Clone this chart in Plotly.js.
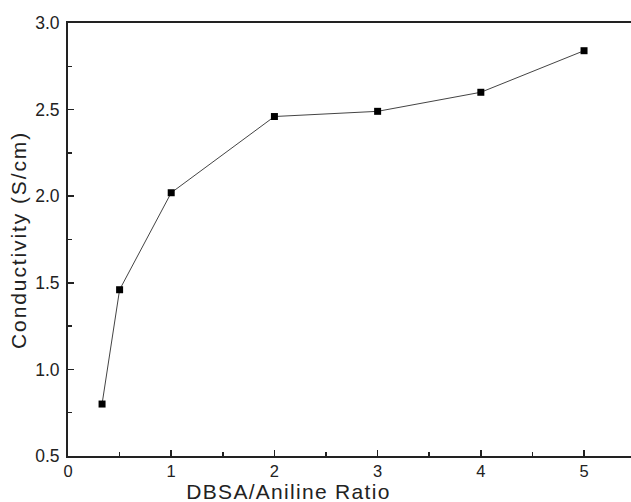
<!DOCTYPE html>
<html>
<head>
<meta charset="utf-8">
<script src="https://cdn.plot.ly/plotly-3.0.1.min.js"></script>
<style>
html,body{margin:0;padding:0;background:#fff;}
#chart{width:631px;height:502px;}
g.annotation[data-index="0"] text{letter-spacing:1.3px;}
g.annotation[data-index="1"] text{letter-spacing:1.9px;}
</style>
</head>
<body>
<div id="chart"></div>
<script>
const ratio = [0.33, 0.5, 1, 2, 3, 4, 5];
const conductivity = [0.80, 1.46, 2.02, 2.46, 2.49, 2.60, 2.84];
const xTickVals = [0, 1, 2, 3, 4, 5];
const yTickVals = [0.5, 1.0, 1.5, 2.0, 2.5, 3.0];
const xTitle = "DBSA/Aniline Ratio";
const yTitle = "Conductivity (S/cm)";

const font = "Arial, 'Liberation Sans', sans-serif";

const trace = {
  x: ratio, y: conductivity, type: 'scatter', mode: 'lines+markers',
  line: {color: '#444', width: 1},
  marker: {symbol: 'square', size: 7, color: '#000'},
  hoverinfo: 'none', showlegend: false
};

const layout = {
  width: 631, height: 502,
  margin: {l: 68, r: 0, t: 23, b: 46, pad: 0},
  paper_bgcolor: '#fff', plot_bgcolor: '#fff',
  font: {family: font, color: '#222'},
  xaxis: {
    range: [0, 5.455], tickvals: xTickVals, ticktext: xTickVals.map(String),
    showgrid: false, zeroline: false, showline: true, linecolor: '#222', linewidth: 2,
    mirror: true, ticks: 'inside', ticklen: 6, tickwidth: 1.5, tickcolor: '#222',
    ticklabelstandoff: -1,
    tickfont: {family: font, size: 16.5, color: '#222'},
    minor: {ticks: 'inside', ticklen: 4, tickwidth: 1.5, tickcolor: '#222', dtick: 0.5, tick0: 0, showgrid: false}
  },
  yaxis: {
    range: [0.5, 3.0], tickvals: yTickVals, ticktext: yTickVals.map(v => v.toFixed(1)),
    showgrid: false, zeroline: false, showline: true, linecolor: '#222', linewidth: 2,
    mirror: false, ticks: 'inside', ticklen: 6, tickwidth: 1.5, tickcolor: '#222',
    ticklabelstandoff: 3,
    tickfont: {family: font, size: 17.5, color: '#222'},
    minor: {ticks: 'inside', ticklen: 4, tickwidth: 1.5, tickcolor: '#222', dtick: 0.25, tick0: 0.5, showgrid: false}
  },
  annotations: [
    {text: xTitle, xref: 'paper', yref: 'paper', x: 0.3925, y: -0.083, xanchor: 'center', yanchor: 'middle',
     showarrow: false, font: {family: font, size: 21, color: '#222'}},
    {text: yTitle, xref: 'paper', yref: 'paper', x: -0.087, y: 0.499, xanchor: 'center', yanchor: 'middle',
     textangle: -90, showarrow: false, font: {family: font, size: 21, color: '#222'}}
  ]
};

Plotly.newPlot('chart', [trace], layout, {displayModeBar: false, staticPlot: true});
</script>
</body>
</html>
